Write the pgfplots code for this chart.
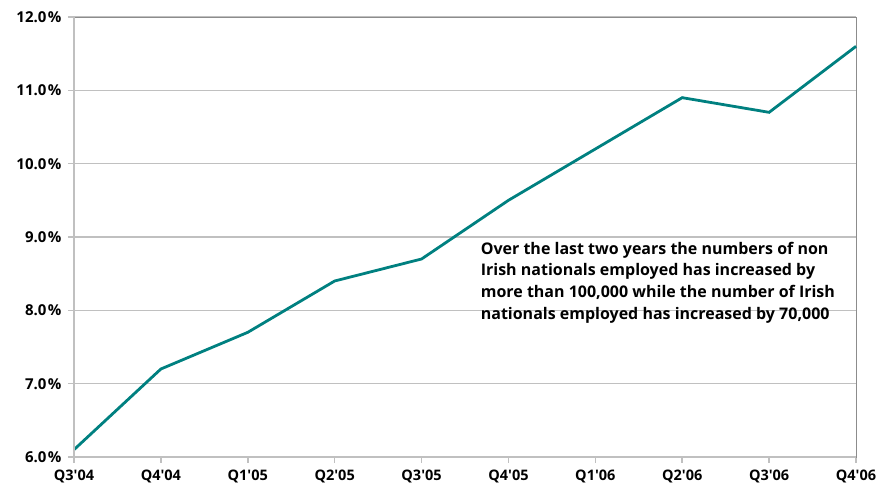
\documentclass[border=0pt]{standalone}
\usepackage{pgfplots}
\pgfplotsset{compat=1.18}
\usepackage{fontspec}
\setmainfont{Open Sans}
\definecolor{teal1}{RGB}{0,128,128}
\definecolor{lgray}{RGB}{192,192,192}
\definecolor{dgray}{RGB}{140,140,140}
\newcommand{\q}{\textquotesingle}
\begin{document}
\begin{tikzpicture}
\begin{axis}[
  scale only axis,
  width=782pt, height=440pt,
  xmin=0, xmax=9, ymin=6, ymax=12,
  xtick={0,...,9},
  xticklabels={Q3\q04,Q4\q04,Q1\q05,Q2\q05,Q3\q05,Q4\q05,Q1\q06,Q2\q06,Q3\q06,Q4\q06},
  ytick={6,7,...,12},
  yticklabel={\pgfmathprintnumber[fixed,fixed zerofill,precision=1]{\tick}\kern1.5pt\%},
  /pgf/number format/assume math mode=true,
  ticklabel style={font=\bfseries\fontsize{14.5}{16}\selectfont},
  yticklabel style={font=\bfseries\fontsize{15}{16}\selectfont, xshift=-3pt},
  xtick pos=bottom, ytick pos=left,
  tick align=outside,
  major tick length=6pt,
  tick style={draw=lgray, line width=1.5pt},
  ymajorgrids,
  grid style={draw=lgray, line width=1.2pt},
  axis line style={draw=dgray, line width=0.8pt},
  xticklabel style={yshift=-3pt},
  clip=false,
]
\addplot[color=teal1, line width=2.8pt] coordinates {
  (0,6.1) (1,7.2) (2,7.7) (3,8.4) (4,8.7) (5,9.5) (6,10.2) (7,10.9) (8,10.7) (9,11.6)
};
\draw[lgray, line width=2.2pt] (rel axis cs:0,0) -- (rel axis cs:0,1);
\draw[lgray, line width=2.2pt] (rel axis cs:0,0) -- (rel axis cs:1,0);
\coordinate (bl) at (rel axis cs:0,0);
\coordinate (tr) at (rel axis cs:1,1);
\node[anchor=west, align=left, font=\bfseries\fontsize{16}{21.7}\selectfont, inner sep=0pt] at (axis cs:4.68,8.38)
  {Over the last two years the numbers of non\\Irish nationals employed has increased by\\more than 100,000 while the number of Irish\\nationals employed has increased by 70,000};
\end{axis}
\pgfresetboundingbox
\path ([xshift=-74pt,yshift=-36pt]bl) rectangle ([xshift=36pt,yshift=17pt]tr);
\end{tikzpicture}
\end{document}
